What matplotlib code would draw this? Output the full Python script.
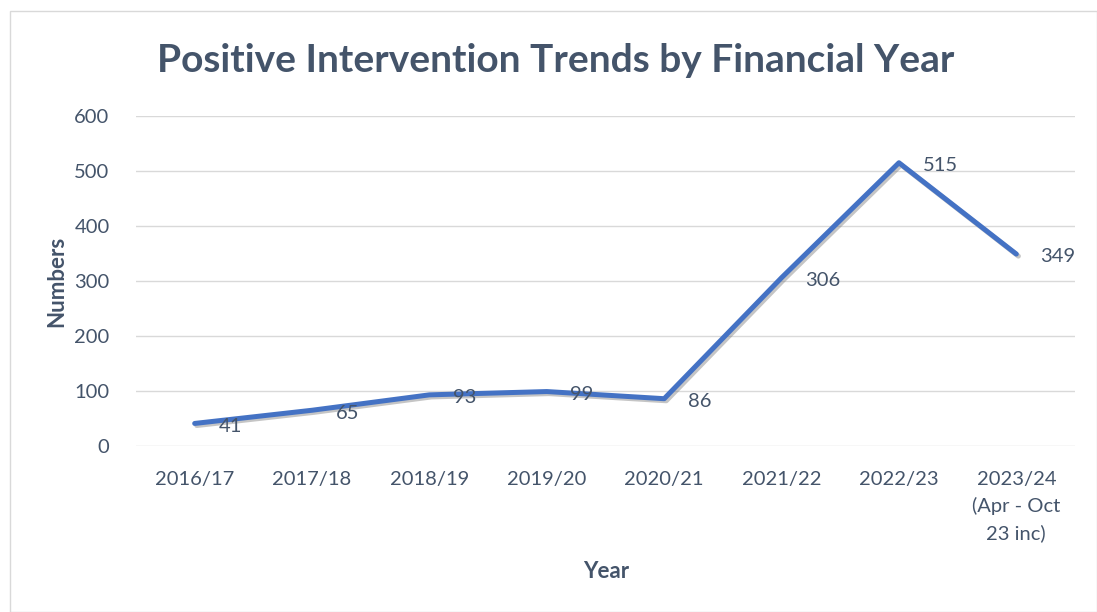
import matplotlib
matplotlib.use("Agg")
import matplotlib.pyplot as plt
import matplotlib.patheffects as pe
from matplotlib.patches import Rectangle

categories = ["2016/17", "2017/18", "2018/19", "2019/20", "2020/21",
              "2021/22", "2022/23", "2023/24\n(Apr - Oct\n23 inc)"]
values = [41, 65, 93, 99, 86, 306, 515, 349]
yticks = [0, 100, 200, 300, 400, 500, 600]

TXT = "#44546A"
LINE = "#4472C4"
GRID = "#D9D9D9"
plt.rcParams['font.family'] = ['Lato', 'DejaVu Sans']

W, H = 1097, 612
fig = plt.figure(figsize=(W / 100, H / 100), dpi=100)
fig.patches.append(Rectangle((10 / W, 0), (W - 10) / W, (H - 11) / H,
                             transform=fig.transFigure, fill=False,
                             edgecolor="#D9D9D9", linewidth=1))

ax = fig.add_axes([136 / W, 1 - 446 / H, (1075 - 136) / W, (446 - 116) / H])
x = list(range(len(categories)))
ax.plot(x, values, color=LINE, linewidth=3.6, solid_capstyle="round",
        solid_joinstyle="round",
        path_effects=[pe.SimpleLineShadow(offset=(1.5, -1.5), shadow_color="gray", alpha=0.45),
                      pe.Normal()])
ax.set_xlim(-0.5, len(categories) - 0.5)
ax.set_ylim(0, 600)
ax.set_yticks(yticks)
ax.set_xticks(x)
ax.set_xticklabels(categories, fontsize=14.5, color=TXT, linespacing=1.62)
ax.tick_params(axis="y", labelsize=14.5, labelcolor=TXT, length=0, pad=19)
ax.tick_params(axis="x", length=0, pad=18)
ax.grid(axis="y", color=GRID, linewidth=1)
ax.set_axisbelow(True)
for s in ax.spines.values():
    s.set_visible(False)

for xi, v in zip(x, values):
    ax.annotate(str(v), (xi, v), xytext=(17, -2), textcoords="offset points",
                ha="left", va="center", fontsize=14.5, color=TXT)

fig.text(556 / W, 1 - 61 / H, "Positive Intervention Trends by Financial Year",
         ha="center", va="center", fontsize=28, fontweight="bold", color=TXT)
fig.text(57 / W, 1 - 281 / H, "Numbers", rotation=90, ha="center", va="center",
         fontsize=16, fontweight="bold", color=TXT)
fig.text(606 / W, 1 - 572 / H, "Year", ha="center", va="center",
         fontsize=16, fontweight="bold", color=TXT)

fig.savefig("out.png", dpi=100)
